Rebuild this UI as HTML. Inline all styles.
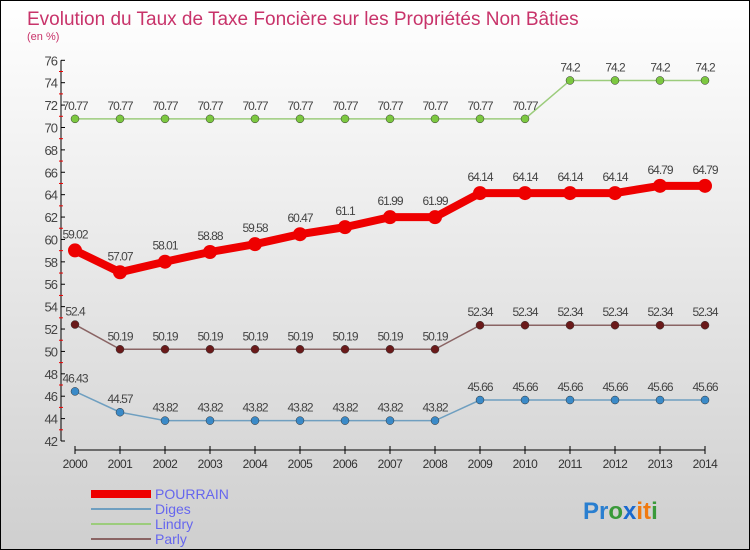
<!DOCTYPE html>
<html><head><meta charset="utf-8"><style>
body{margin:0}
#c{position:relative;width:748px;height:548px;border:1px solid #000;background:linear-gradient(#ffffff,#cfcfcf);font-family:"Liberation Sans",sans-serif;overflow:hidden}
svg text{font-family:"Liberation Sans",sans-serif}
</style></head><body>
<div id="c">
<svg id="s" width="748" height="548" xmlns="http://www.w3.org/2000/svg">
<text x="26" y="24" font-size="19" fill="#c8336a">Evolution du Taux de Taxe Foncière sur les Propriétés Non Bâties</text>
<text x="26" y="39" font-size="11" fill="#c8336a">(en %)</text>
<g id="g"></g>
<g>
<rect x="90" y="489" width="60" height="8" fill="#e00"/>
<text x="154" y="498" font-size="14" fill="#6666ee">POURRAIN</text>
<rect x="90" y="507" width="60" height="2" fill="#6f9fc0"/>
<text x="154" y="513" font-size="14" fill="#6666ee">Diges</text>
<rect x="90" y="522" width="60" height="2" fill="#9ccc7c"/>
<text x="154" y="528" font-size="14" fill="#6666ee">Lindry</text>
<rect x="90" y="537" width="60" height="2" fill="#8a6464"/>
<text x="154" y="543" font-size="14" fill="#6666ee">Parly</text>
</g>
<g font-size="24" font-weight="bold">
<text x="582" y="518"><tspan fill="#2a7fd0">Pr</tspan><tspan fill="#3a9a3a">o</tspan><tspan fill="#1a6ad0">x</tspan><tspan fill="#f07a10">it</tspan><tspan fill="#3a9a3a">i</tspan></text>
</g>
</svg></div>
<script>
const years=[2000,2001,2002,2003,2004,2005,2006,2007,2008,2009,2010,2011,2012,2013,2014];
const pourrain=[59.02,57.07,58.01,58.88,59.58,60.47,61.1,61.99,61.99,64.14,64.14,64.14,64.14,64.79,64.79];
const diges=[46.43,44.57,43.82,43.82,43.82,43.82,43.82,43.82,43.82,45.66,45.66,45.66,45.66,45.66,45.66];
const lindry=[70.77,70.77,70.77,70.77,70.77,70.77,70.77,70.77,70.77,70.77,70.77,74.2,74.2,74.2,74.2];
const parly=[52.4,50.19,50.19,50.19,50.19,50.19,50.19,50.19,50.19,52.34,52.34,52.34,52.34,52.34,52.34];
const yTicks=[42,44,46,48,50,52,54,56,58,60,62,64,66,68,70,72,74,76];
const NS="http://www.w3.org/2000/svg";
const g=document.getElementById('g');
const x=i=>75-1+i*45.0;
const y=v=>441-1-(v-42)*(380.7/34);
function mk(t,a){const e=document.createElementNS(NS,t);for(const k in a)e.setAttribute(k,a[k]);g.appendChild(e);return e;}
let e=mk('line',{x1:60,y1:y(76),x2:60,y2:y(42),stroke:'#000'});


e=mk('line',{x1:x(0),y1:y(42)+9,x2:x(14),y2:y(42)+9,stroke:'#000'});


yTicks.forEach(v=>{
 mk('line',{x1:60,y1:y(v),x2:64,y2:y(v),stroke:'#000'});
 if(v<76) mk('line',{x1:58,y1:y(v+1),x2:62,y2:y(v+1),stroke:'#e00'});
 const t=mk('text',{x:56,y:y(v)+5,'font-size':13,'text-anchor':'end',fill:'#444','letter-spacing':'-1'});t.textContent=v;
 
 
});
years.forEach((yr,i)=>{
 mk('line',{x1:x(i),y1:y(42)+5,x2:x(i),y2:y(42)+13,stroke:'#000'});
 const t=mk('text',{x:x(i),y:y(42)+27,'font-size':12,'text-anchor':'middle',fill:'#333','letter-spacing':'-0.5'});t.textContent=yr;
 
 
});
function series(name,vals,col,w,r,dot){
 const p=mk('polyline',{points:vals.map((v,i)=>x(i)+','+y(v)).join(' '),fill:'none',stroke:col,'stroke-width':w});
 
 
 vals.forEach((v,i)=>{
  const c=mk('circle',{cx:x(i),cy:y(v),r:r,fill:dot,stroke:col==='#e00'?'#e00':'#333','stroke-width':col==='#e00'?0:0.5});
  
  
  const t=mk('text',{x:x(i),y:y(v)-(r+5),'font-size':12,'text-anchor':'middle',fill:'#444','letter-spacing':'-1'});t.textContent=v;
  
  
 });
}
series('lindry',lindry,'#9ccc7c',1.5,4,'#7cc840');
series('diges',diges,'#6f9fc0',1.5,4,'#3a8ac8');
series('parly',parly,'#8a6464',1.5,4,'#6a1a1a');
series('pourrain',pourrain,'#e00',8,7,'#e00');
</script>
</body></html>
